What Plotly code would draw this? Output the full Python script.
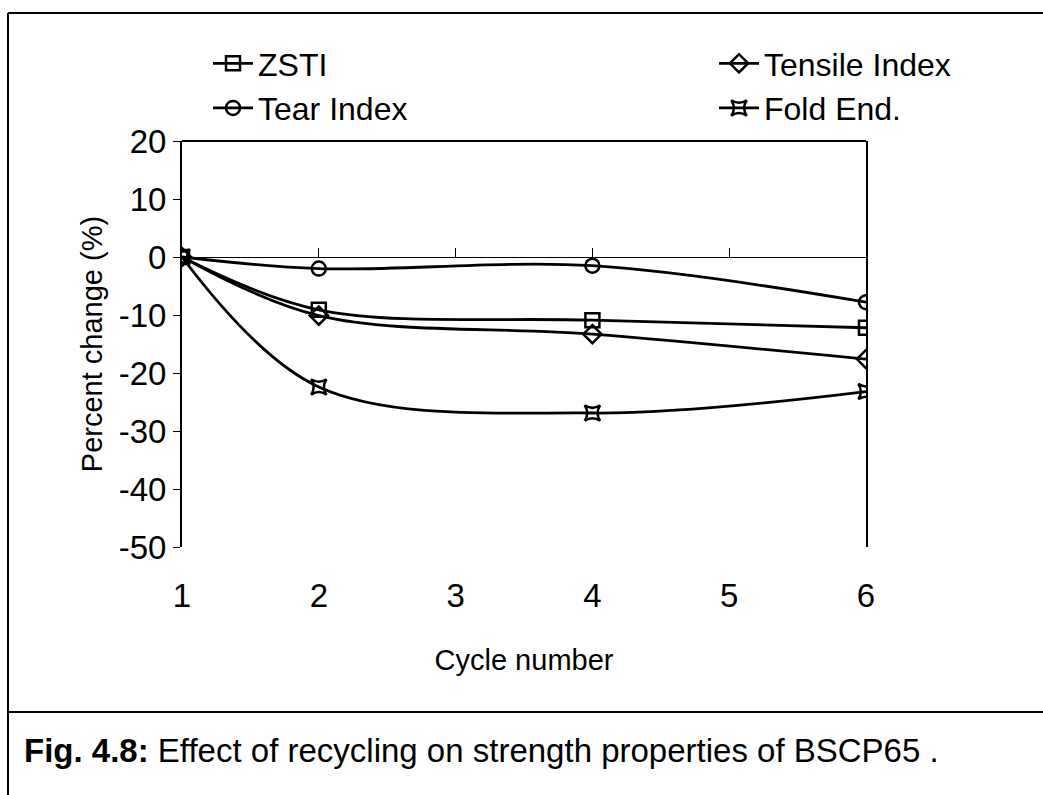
import plotly.graph_objects as go

# Recycling cycles and percent change of each strength property
cycles = [1, 2, 4, 6]
zsti = [0.0, -9.1, -10.9, -12.2]
tensile_index = [0.0, -10.1, -13.3, -17.6]
tear_index = [0.0, -2.0, -1.5, -7.8]
fold_end = [0.0, -22.4, -26.9, -23.2]

x_ticks = [1, 2, 3, 4, 5, 6]
y_ticks = [20, 10, 0, -10, -20, -30, -40, -50]
y_tick_text = ["20", "10", "0", "-10", "-20", "-30", "-40", "-50"]

W, H = 1043, 795
L, R, T, B = 182, 177, 141, 248
PW, PH = W - L - R, H - T - B
FONT = "Liberation Sans, Arial, sans-serif"


def px_x(px):
    return (px - L) / PW


def px_y(py):
    return (H - B - py) / PH


series = [
    ("ZSTI", zsti, "square-open", "legend"),
    ("Tensile Index", tensile_index, "diamond-open", "legend2"),
    ("Tear Index", tear_index, "circle-open", "legend"),
    ("Fold End.", fold_end, "star-square-open", "legend2"),
]

fig = go.Figure()
for i, (name, vals, sym, leg) in enumerate(series):
    fig.add_trace(go.Scatter(
        x=cycles, y=vals, name=name, mode="lines+markers",
        line=dict(color="black", width=2.8, shape="spline", smoothing=1.0),
        marker=dict(symbol=sym, size=14, color="black",
                    line=dict(color="black", width=2.5)),
        legend=leg, legendgroup=name,
        xaxis="x2" if i == 0 else "x",
    ))

fig.update_layout(
    width=W, height=H,
    margin=dict(l=L, r=R, t=T, b=B),
    paper_bgcolor="white", plot_bgcolor="white",
    font=dict(family=FONT, size=28, color="black"),
    showlegend=True,
    xaxis=dict(
        range=[1, 6], tickvals=x_ticks, ticktext=[str(v) for v in x_ticks],
        showline=False, showgrid=False, zeroline=False, ticks="",
        tickfont=dict(size=33), ticklabelstandoff=26,
        title=dict(text="Cycle number", font=dict(size=29), standoff=36),
    ),
    xaxis2=dict(
        range=[1, 6], tickvals=x_ticks, overlaying="x", anchor="free",
        position=(0 - (-50)) / 70, side="bottom",
        showline=True, linecolor="black", linewidth=1,
        ticks="inside", ticklen=9, tickwidth=1, tickcolor="black",
        showticklabels=False, showgrid=False, zeroline=False,
    ),
    yaxis=dict(
        range=[-50, 20], tickvals=y_ticks, ticktext=y_tick_text,
        showgrid=False, zeroline=False,
        showline=True, linecolor="black", linewidth=2, mirror=True,
        ticks="outside", ticklen=7, tickwidth=1, tickcolor="black",
        tickfont=dict(size=33),
        title=dict(text="Percent change (%)", font=dict(size=29), standoff=8),
    ),
    legend=dict(
        x=px_x(208), y=px_y(36), xanchor="left", yanchor="top",
        bgcolor="rgba(0,0,0,0)", font=dict(size=32), tracegroupgap=0,
        itemwidth=40,
    ),
    legend2=dict(
        x=px_x(714), y=px_y(36), xanchor="left", yanchor="top",
        bgcolor="rgba(0,0,0,0)", font=dict(size=32), tracegroupgap=0,
        itemwidth=40,
    ),
)

line = dict(color="black", width=2)
fig.update_layout(shapes=[
    # top edge of the plotting area
    dict(type="line", xref="paper", yref="paper", x0=0, x1=1, y0=1, y1=1, line=line),
    # outer frame and caption separator
    dict(type="line", xref="paper", yref="paper", x0=px_x(8), x1=px_x(W),
         y0=px_y(13), y1=px_y(13), line=line),
    dict(type="line", xref="paper", yref="paper", x0=px_x(8), x1=px_x(8),
         y0=px_y(13), y1=px_y(H), line=line),
    dict(type="line", xref="paper", yref="paper", x0=px_x(8), x1=px_x(W),
         y0=px_y(712), y1=px_y(712), line=line),
])

fig.add_annotation(
    x=px_x(22), y=px_y(750), xref="paper", yref="paper",
    xanchor="left", yanchor="middle", showarrow=False,
    text="<b>Fig. 4.8:</b> Effect of recycling on strength properties of BSCP65 .",
    font=dict(size=33, family=FONT),
)

fig.write_html("out.html")
